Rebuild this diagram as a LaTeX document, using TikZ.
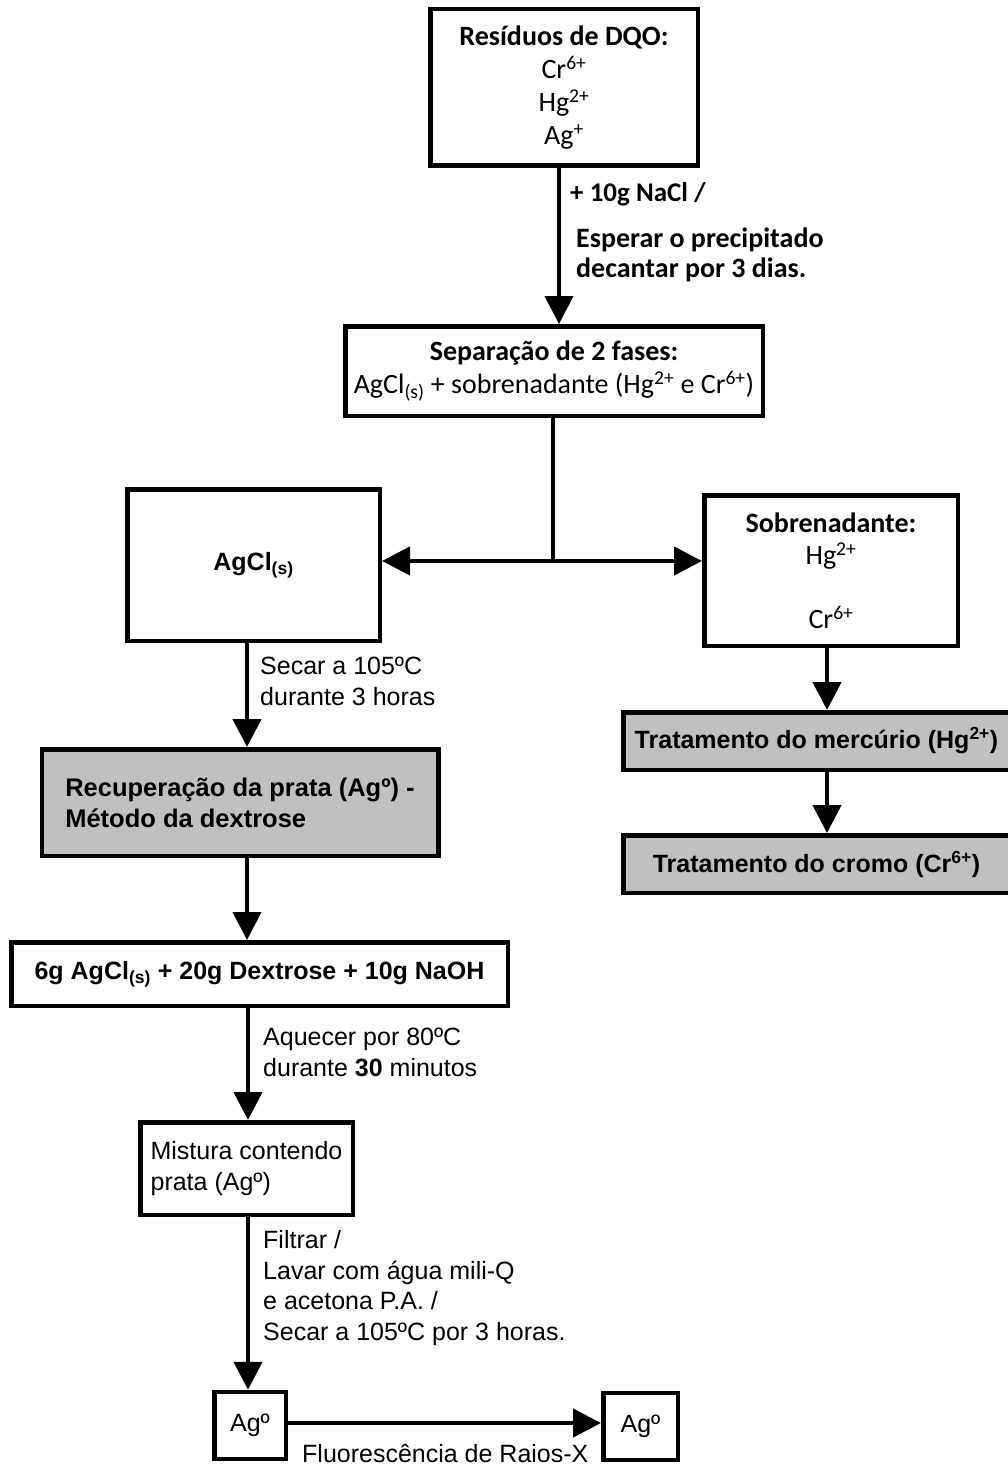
\documentclass[tikz,border=0pt]{standalone}
\usepackage{fontspec}
\setmainfont{Liberation Sans}
\newfontfamily\calfont{Carlito}
\usetikzlibrary{arrows.meta}
\definecolor{boxgray}{HTML}{C0C0C0}
\begin{document}
\begin{tikzpicture}[x=1pt,y=-1pt,
  box/.style={draw, line width=4.5pt, rectangle, inner sep=0pt, align=center,
    font=\fontsize{25}{31}\selectfont},
  boldbox/.style={box, font=\bfseries\fontsize{25}{31}\selectfont},
  graybox/.style={boldbox, fill=boxgray},
  calbox/.style={box, font=\calfont\fontsize{28}{33}\selectfont},
  conn/.style={line width=4.5pt},
  arr/.style={conn, -{Triangle[length=28pt,width=28pt]}},
  % multi-line labels are placed by the baseline of their last line
  lbl/.style={inner sep=0pt, anchor=base west, align=left,
    font=\fontsize{25}{30.5}\selectfont},
  callbl/.style={lbl, font=\calfont\bfseries\fontsize{28}{30}\selectfont},
]
\useasboundingbox (0,0) rectangle (1007,1466);

% process boxes
\node[calbox, minimum width=267.5pt, minimum height=156.5pt] (res) at (564,87.5)
  {\textbf{Resíduos de DQO:}\\Cr\textsuperscript{6+}\\Hg\textsuperscript{2+}\\Ag\textsuperscript{+}};
\node[calbox, minimum width=417.5pt, minimum height=89.5pt] (sep) at (554,371)
  {\textbf{Separação de 2 fases:}\\AgCl\textsubscript{(s)} + sobrenadante (Hg\textsuperscript{2+} e Cr\textsuperscript{6+})};
\node[boldbox, minimum width=252.5pt, minimum height=151.5pt] (agcl) at (253.5,565)
  {AgCl\textsubscript{(s)}};
\node[calbox, minimum width=253.5pt, minimum height=150.5pt, font=\calfont\fontsize{28}{32}\selectfont] (sob) at (831,570.5)
  {\textbf{Sobrenadante:}\\Hg\textsuperscript{2+}\\[32pt]Cr\textsuperscript{6+}};
\node[graybox, minimum width=386.5pt, minimum height=57.5pt] (hg) at (816.5,741)
  {Tratamento do mercúrio (Hg\textsuperscript{2+})};
\node[graybox, minimum width=386.5pt, minimum height=57.5pt] (cr) at (816.5,864)
  {Tratamento do cromo (Cr\textsuperscript{6+})};
\node[graybox, minimum width=396.5pt, minimum height=106.5pt, align=left,
  font=\bfseries\fontsize{25.5}{31}\selectfont] (rec) at (240,802.5)
  {Recuperação da prata (Agº) -\\Método da dextrose};
\node[boldbox, minimum width=496.5pt, minimum height=63.5pt] (mixa) at (259.5,974)
  {6g AgCl\textsubscript{(s)} + 20g Dextrose + 10g NaOH};
\node[box, minimum width=212.5pt, minimum height=92.5pt, align=left] (mist) at (246.5,1168.5)
  {Mistura contendo\\prata (Agº)};
\node[box, minimum width=71.5pt, minimum height=67pt] (aga) at (250,1425.5) {Agº};
\node[box, minimum width=74.5pt, minimum height=67pt] (agb) at (640.5,1426.5) {Agº};

% connectors
\coordinate (xa) at (559,0);
\coordinate (jn) at (553,561);
\coordinate (xb) at (827,0);
\coordinate (xc) at (247,0);
\coordinate (xd) at (248,0);
\coordinate (ya) at (0,1423);
\draw[arr] (res.south -| xa) -- (sep.north -| xa);
\draw[conn] (sep.south -| jn) -- (jn);
\draw[arr] (jn) -- (agcl.east |- jn);
\draw[arr] (jn) -- (sob.west |- jn);
\draw[arr] (sob.south -| xb) -- (hg.north -| xb);
\draw[arr] (hg.south -| xb) -- (cr.north -| xb);
\draw[arr] (agcl.south -| xc) -- (rec.north -| xc);
\draw[arr] (rec.south -| xc) -- (mixa.north -| xc);
\draw[arr] (mixa.south -| xd) -- (mist.north -| xd);
\draw[arr] (mist.south -| xd) -- (aga.north -| xd);
\draw[arr] (aga.east |- ya) -- (agb.west |- ya);

% step labels
\node[callbl, font=\calfont\bfseries\fontsize{27}{30}\selectfont] (la) at (570,201) {+ 10g NaCl /};
\node[callbl] (lb) at (576,277) {Esperar o precipitado\\decantar por 3 dias.};
\node[lbl] (lc) at (260,705) {Secar a 105ºC\\durante 3 horas};
\node[lbl] (ld) at (263,1076) {Aquecer por 80ºC\\durante \textbf{30} minutos};
\node[lbl] (le) at (263,1340) {Filtrar /\\Lavar com água mili-Q\\e acetona P.A. /\\Secar a 105ºC por 3 horas.};
\node[lbl] (lf) at (302,1462) {Fluorescência de Raios-X};
\end{tikzpicture}
\end{document}
